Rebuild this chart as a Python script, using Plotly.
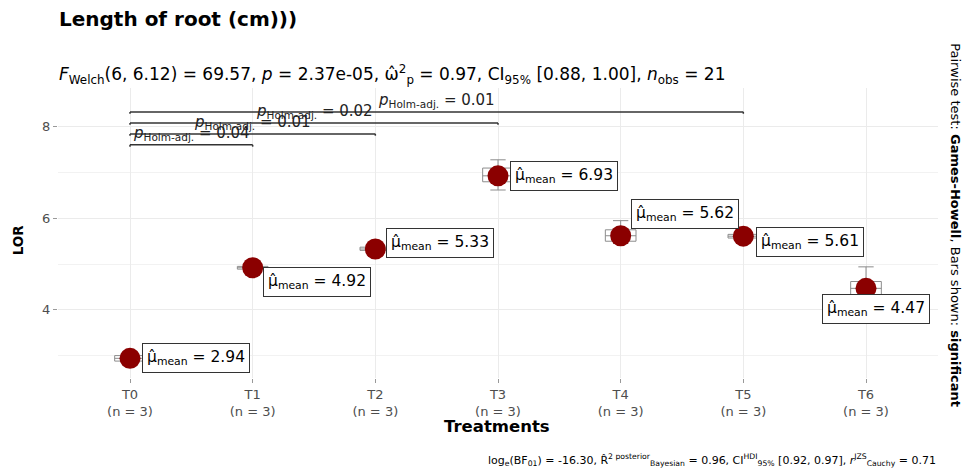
import plotly.graph_objects as go

# ---------------- data ----------------
treatments = ["T0", "T1", "T2", "T3", "T4", "T5", "T6"]
n_obs = [3, 3, 3, 3, 3, 3, 3]
means = [2.94, 4.92, 5.33, 6.93, 5.62, 5.61, 4.47]
box_q1 = [2.88, 4.89, 5.30, 6.80, 5.50, 5.57, 4.30]
box_median = [2.94, 4.92, 5.33, 6.93, 5.62, 5.61, 4.47]
box_q3 = [3.00, 4.95, 5.37, 7.10, 5.75, 5.65, 4.62]
box_low = [2.85, 4.87, 5.28, 6.62, 5.45, 5.55, 4.22]
box_high = [3.03, 4.97, 5.39, 7.28, 5.95, 5.67, 4.94]

pair_group1 = ["T0", "T0", "T0", "T0"]
pair_group2 = ["T1", "T2", "T3", "T5"]
pair_p = ["0.04", "0.01", "0.02", "0.01"]

y_ticks = [4, 6, 8]

# ---------------- styling ----------------
FONT = "DejaVu Sans, Liberation Sans, Arial, sans-serif"
GREY = "#4d4d4d"
bracket_base = 7.607
bracket_step = 0.24
label_offsets = [(12, 0), (10, -14), (11, 6), (12, 0), (10, 22), (13, -6), (-44, -21)]

fig = go.Figure()

# small box plots
fig.add_trace(go.Box(
    x=treatments, q1=box_q1, median=box_median, q3=box_q3,
    lowerfence=box_low, upperfence=box_high,
    width=0.25, fillcolor="white",
    line=dict(color="#8c8c8c", width=1),
    boxpoints=False, showlegend=False, hoverinfo="skip",
))

# mean markers
fig.add_trace(go.Scatter(
    x=treatments, y=means, mode="markers",
    marker=dict(size=21, color="#8b0000"),
    showlegend=False,
))

annotations = []
shapes = []

# mean labels
for t, m, (dx, dy) in zip(treatments, means, label_offsets):
    annotations.append(dict(
        x=t, y=m, xref="x", yref="y",
        text="μ̂<sub>mean</sub> = %.2f" % m,
        showarrow=False, xanchor="left", yanchor="middle",
        xshift=dx, yshift=dy,
        font=dict(family=FONT, size=15.5, color="black"),
        bgcolor="white", bordercolor="#333333", borderwidth=1, borderpad=4,
    ))

# pairwise brackets
idx = {t: i for i, t in enumerate(treatments)}
for k, (g1, g2, p) in enumerate(zip(pair_group1, pair_group2, pair_p)):
    yb = bracket_base + k * bracket_step
    x1, x2 = idx[g1], idx[g2]
    tip = 0.04
    shapes.append(dict(type="line", xref="x", yref="y", x0=x1, x1=x2, y0=yb, y1=yb,
                       line=dict(color="#333333", width=1.5)))
    shapes.append(dict(type="line", xref="x", yref="y", x0=x1, x1=x1, y0=yb, y1=yb - tip,
                       line=dict(color="#333333", width=1.5)))
    shapes.append(dict(type="line", xref="x", yref="y", x0=x2, x1=x2, y0=yb, y1=yb - tip,
                       line=dict(color="#333333", width=1.5)))
    annotations.append(dict(
        x=(x1 + x2) / 2, y=yb, xref="x", yref="y",
        text="<i>p</i><sub>Holm-adj.</sub> = " + p,
        showarrow=False, xanchor="center", yanchor="bottom", yshift=0,
        font=dict(family=FONT, size=15, color="#222222"),
    ))

# titles / texts
annotations += [
    dict(text="<b>Length of root (cm)))</b>", xref="paper", yref="paper",
         x=-0.001, y=1.238, xanchor="left", yanchor="middle", showarrow=False,
         font=dict(family=FONT, size=20, color="black")),
    dict(text="<i>F</i><sub>Welch</sub>(6, 6.12) = 69.57, <i>p</i> = 2.37e-05, "
              "ω̂<sup>2</sup><sub>p</sub> = 0.97, CI<sub>95%</sub> [0.88, 1.00], "
              "<i>n</i><sub>obs</sub> = 21",
         xref="paper", yref="paper", x=-0.001, y=1.045, xanchor="left", yanchor="middle",
         showarrow=False, font=dict(family=FONT, size=17, color="black")),
    dict(text="log<sub>e</sub>(BF<sub>01</sub>) = -16.30, "
              "R̂<sup>2 posterior</sup><sub>Bayesian</sub> = 0.96, "
              "CI<sup>HDI</sup><sub>95%</sub> [0.92, 0.97], "
              "<i>r</i><sup>JZS</sup><sub>Cauchy</sub> = 0.71",
         xref="paper", yref="paper", x=1.0, y=-0.283, xanchor="right", yanchor="middle",
         showarrow=False, font=dict(family=FONT, size=11, color="black")),
    dict(text="<b>Treatments</b>", xref="paper", yref="paper", x=0.499, y=-0.166,
         xanchor="center", yanchor="middle", showarrow=False,
         font=dict(family=FONT, size=16.5, color="black")),
    dict(text="<b>LOR</b>", xref="paper", yref="paper", x=-0.045, y=0.476,
         xanchor="center", yanchor="middle", textangle=-90, showarrow=False,
         font=dict(family=FONT, size=13.5, color="black")),
    dict(text="Pairwise test: <b>Games-Howell</b>, Bars shown: <b>significant</b>",
         xref="paper", yref="paper", x=1.019, y=0.528, xanchor="center", yanchor="middle",
         textangle=90, showarrow=False, font=dict(family=FONT, size=13, color="black")),
]

fig.update_layout(
    width=969, height=476,
    margin=dict(l=58, r=31, t=88, b=98, autoexpand=False),
    paper_bgcolor="white", plot_bgcolor="white",
    font=dict(family=FONT, size=13, color=GREY),
    annotations=annotations, shapes=shapes,
    showlegend=False,
)
fig.update_xaxes(
    type="category", categoryorder="array", categoryarray=treatments,
    range=[-0.587, 6.587],
    tickvals=treatments,
    ticktext=["%s<br>(n = %d)" % (t, n) for t, n in zip(treatments, n_obs)],
    ticks="outside", ticklen=4, tickcolor="#999999",
    tickfont=dict(family=FONT, size=13, color=GREY),
    showgrid=True, gridcolor="#ebebeb", gridwidth=1,
    zeroline=False, showline=False,
)
fig.update_yaxes(
    range=[2.51, 8.85],
    tickvals=y_ticks, ticktext=[str(v) for v in y_ticks],
    ticks="outside", ticklen=4, tickcolor="#999999",
    tickfont=dict(family=FONT, size=13, color=GREY),
    showgrid=True, gridcolor="#ebebeb", gridwidth=1,
    minor=dict(dtick=1, tick0=0, showgrid=True, gridcolor="#f2f2f2", gridwidth=1),
    zeroline=False, showline=False,
)

fig.write_html("out.html", config={"displayModeBar": False},
               post_script="document.body.style.margin='0px';")
